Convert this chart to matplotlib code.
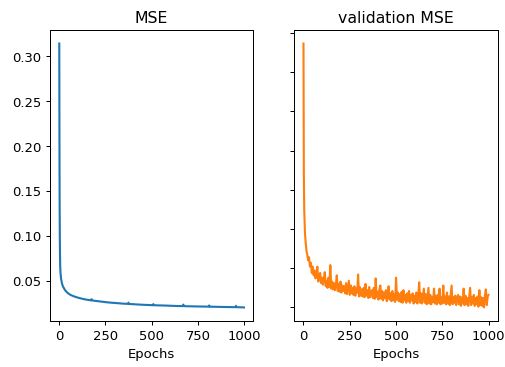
import matplotlib
matplotlib.use('Agg')
import matplotlib.pyplot as plt

# training MSE
mse_epochs = [0, 1, 2, 3, 4, 5, 7, 10, 15, 20, 30, 40, 50, 60, 75, 90, 110, 130, 150,
              172, 175, 178, 200, 225, 250, 275, 300, 325, 350, 371, 374, 377, 400, 425,
              450, 475, 506, 509, 512, 535, 560, 600, 640, 668, 671, 674, 700, 750, 808,
              811, 814, 850, 900, 953, 956, 959, 980, 999]
mse_values = [0.3143, 0.205, 0.135, 0.098, 0.078, 0.066, 0.058, 0.052, 0.0468, 0.0438,
              0.0400, 0.0376, 0.0358, 0.0345, 0.0331, 0.0320, 0.0308, 0.0298, 0.0290,
              0.0283, 0.0296, 0.0282, 0.0276, 0.0270, 0.0263, 0.0258, 0.0254, 0.0250,
              0.0246, 0.0244, 0.0258, 0.0243, 0.0240, 0.0237, 0.0234, 0.0232, 0.0229,
              0.0241, 0.0229, 0.0227, 0.0226, 0.0223, 0.0220, 0.0219, 0.0236, 0.0219,
              0.0217, 0.0215, 0.0213, 0.0226, 0.0213, 0.0211, 0.0209, 0.0207, 0.0222,
              0.0207, 0.0206, 0.0204]

# validation MSE
val_epochs = [0, 1, 2, 3, 4, 6, 8, 10, 12, 14, 16, 18] + list(range(20, 1000, 5)) + [999]
val_values = [0.3365, 0.23, 0.17, 0.14, 0.125, 0.108, 0.095, 0.088, 0.082, 0.078, 0.072, 0.070,
              # 20 - 65
              0.068, 0.060, 0.064, 0.052, 0.057, 0.044, 0.052, 0.041, 0.047, 0.037,
              # 70 - 115
              0.043, 0.052, 0.033, 0.040, 0.044, 0.031, 0.038, 0.029, 0.036, 0.045,
              # 120 - 165
              0.027, 0.034, 0.025, 0.038, 0.026, 0.054, 0.024, 0.033, 0.023, 0.031,
              # 170 - 215
              0.022, 0.029, 0.041, 0.021, 0.030, 0.020, 0.033, 0.019, 0.028, 0.021,
              # 220 - 265
              0.027, 0.018, 0.031, 0.017, 0.026, 0.034, 0.016, 0.028, 0.018, 0.025,
              # 270 - 315
              0.016, 0.027, 0.015, 0.024, 0.019, 0.042, 0.014, 0.026, 0.015, 0.023,
              # 320 - 365
              0.014, 0.025, 0.013, 0.030, 0.015, 0.022, 0.012, 0.026, 0.013, 0.021,
              # 370 - 415
              0.022, 0.012, 0.025, 0.011, 0.037, 0.013, 0.020, 0.010, 0.023, 0.028,
              # 420 - 465
              0.011, 0.021, 0.009, 0.019, 0.012, 0.022, 0.008, 0.020, 0.027, 0.010,
              # 470 - 515
              0.018, 0.008, 0.021, 0.009, 0.017, 0.007, 0.038, 0.010, 0.019, 0.008,
              # 520 - 565
              0.017, 0.007, 0.020, 0.006, 0.022, 0.009, 0.016, 0.006, 0.018, 0.008,
              # 570 - 615
              0.021, 0.006, 0.016, 0.009, 0.018, 0.005, 0.015, 0.007, 0.019, 0.005,
              # 620 - 665
              0.016, 0.032, 0.006, 0.018, 0.005, 0.015, 0.024, 0.006, 0.017, 0.004,
              # 670 - 715
              0.014, 0.025, 0.005, 0.016, 0.004, 0.013, 0.007, 0.024, 0.005, 0.015,
              # 720 - 765
              0.004, 0.016, 0.006, 0.024, 0.004, 0.013, 0.005, 0.028, 0.006, 0.014,
              # 770 - 815
              0.004, 0.019, 0.005, 0.014, 0.003, 0.016, 0.028, 0.004, 0.013, 0.006,
              # 820 - 865
              0.015, 0.003, 0.012, 0.016, 0.004, 0.014, 0.002, 0.013, 0.005, 0.024,
              # 870 - 915
              0.003, 0.015, 0.004, 0.012, 0.002, 0.014, 0.025, 0.003, 0.013, 0.005,
              # 920 - 965
              0.016, 0.002, 0.012, 0.004, 0.014, 0.001, 0.022, 0.003, 0.013, 0.002,
              # 970 - 995, 999
              0.012, 0.000, 0.015, 0.023, 0.003, 0.014, 0.016]

plt.rcParams['font.size'] = 10.6
plt.rcParams['lines.linewidth'] = 1.7

dpi = 89
fig = plt.figure(figsize=(505.4 / dpi, 367.4 / dpi), dpi=dpi)
ax1 = fig.add_axes([50 / 505, 1 - 320.7 / 367, 203 / 505, 290 / 367])
ax2 = fig.add_axes([294 / 505, 1 - 320.7 / 367, 203.3 / 505, 290 / 367])

ax1.plot(mse_epochs, mse_values, color='tab:blue')
ax1.set(xlabel='Epochs', title='MSE')

ax2.plot(val_epochs, val_values, color='tab:orange')
ax2.set(xlabel='Epochs', title='validation MSE')
ax2.tick_params(labelleft=False)

for ax in (ax1, ax2):
    ax.set_xticks([0, 250, 500, 750, 1000])

fig.savefig('out.png', dpi=dpi)
